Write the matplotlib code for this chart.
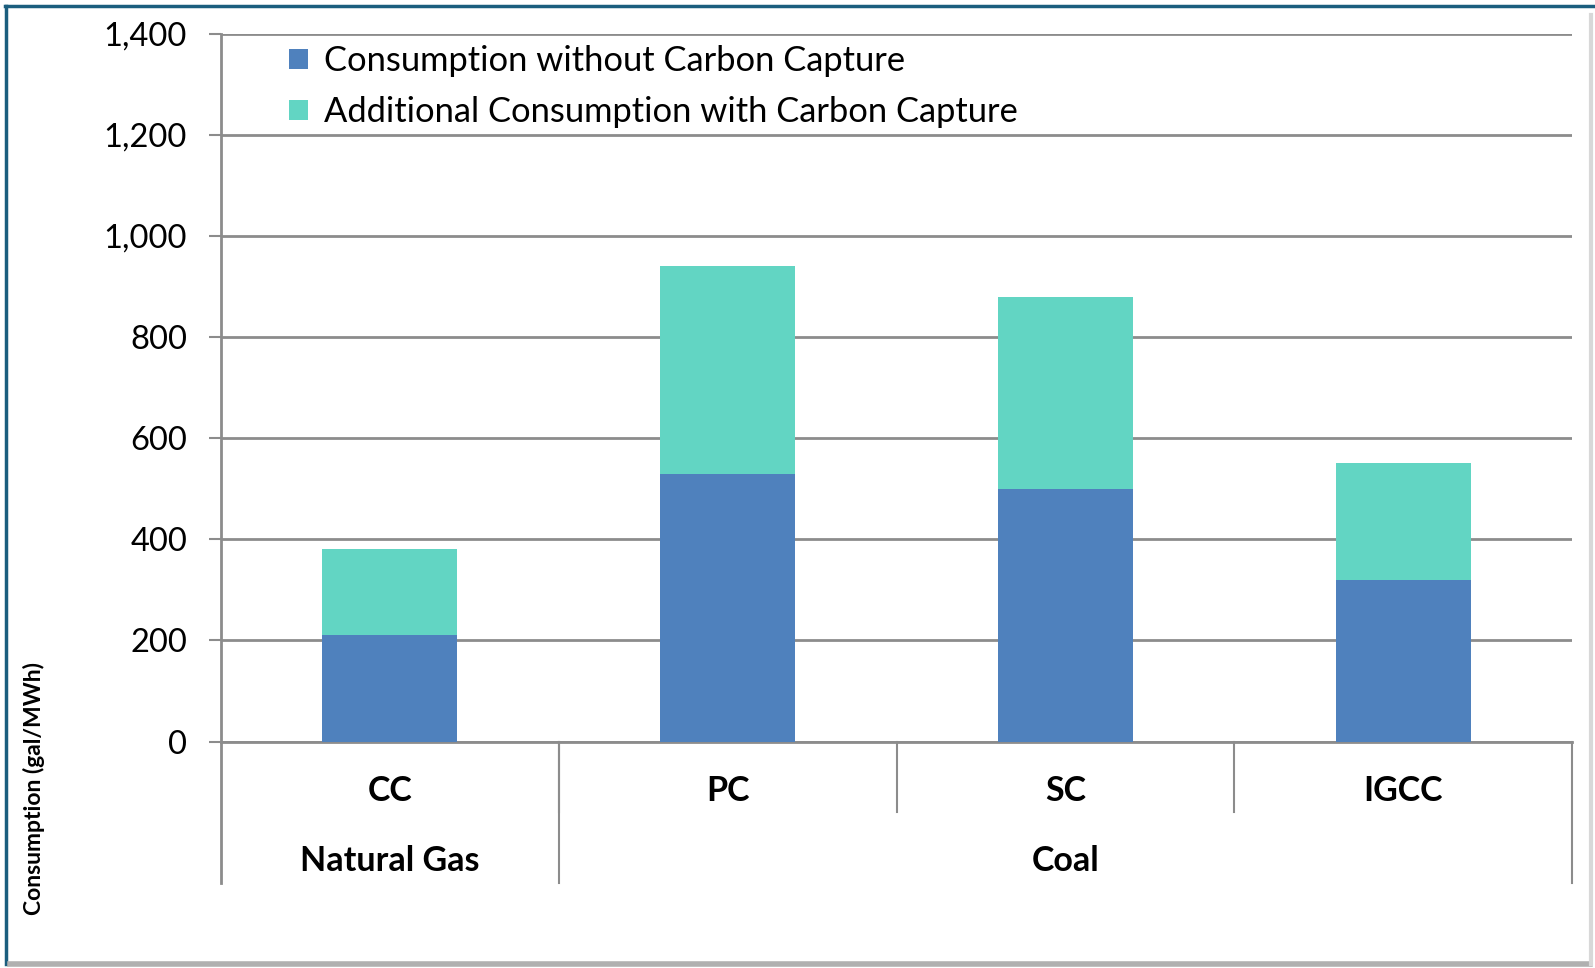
import matplotlib.pyplot as plt
from matplotlib.lines import Line2D
from matplotlib.ticker import FuncFormatter

plt.rcParams['font.family'] = ['Lato', 'DejaVu Sans']

# data
technologies = ['CC', 'PC', 'SC', 'IGCC']
fuel_groups = ['Natural Gas', 'Coal']
group_spans = [(0, 1), (1, 4)]  # category index ranges per fuel group
base_use = [210, 530, 500, 320]          # without carbon capture
extra_use = [170, 410, 380, 230]         # additional with carbon capture
y_ticks = [0, 200, 400, 600, 800, 1000, 1200, 1400]

blue = '#4F81BD'
teal = '#62D5C3'
grid_gray = '#8C8C8C'

fig = plt.figure(figsize=(15.95, 9.68), dpi=100)
ax = fig.add_axes([0.1386, 0.2339, 0.8470, 0.7314])

x = list(range(len(technologies)))
ax.bar(x, base_use, width=0.4, color=blue, label='Consumption without Carbon Capture', zorder=3)
ax.bar(x, extra_use, width=0.4, bottom=base_use, color=teal,
       label='Additional Consumption with Carbon Capture', zorder=3)

ax.set_xlim(-0.5, len(technologies) - 0.5)
ax.set_ylim(0, 1400)
ax.set_yticks(y_ticks)
ax.yaxis.set_major_formatter(FuncFormatter(lambda v, p: f'{int(v):,}'))
ax.tick_params(axis='y', labelsize=23.5, length=9, width=1.5, color=grid_gray, pad=15.5)
ax.set_xticks([])
ax.yaxis.grid(True, color=grid_gray, linewidth=2)
ax.set_axisbelow(True)

for side in ['top', 'right']:
    ax.spines[side].set_visible(False)
ax.spines['bottom'].set_color(grid_gray)
ax.spines['bottom'].set_linewidth(2)
ax.spines['left'].set_color(grid_gray)
ax.spines['left'].set_linewidth(2)
ax.spines['left'].set_bounds(0, 1400)

# two-level category axis
ax.axvline(-0.5, ymin=-0.2, ymax=0, color=grid_gray, linewidth=2, clip_on=False)
for i in range(1, len(technologies)):
    ax.axvline(i - 0.5, ymin=-0.0994, ymax=0, color=grid_gray, linewidth=1.5, clip_on=False)
for start, end in group_spans:
    ax.axvline(end - 0.5, ymin=-0.2, ymax=0, color=grid_gray, linewidth=1.5, clip_on=False)

trans = ax.get_xaxis_transform()
for i, name in enumerate(technologies):
    ax.text(i, -0.0698, name, transform=trans, ha='center', va='center',
            fontsize=24.5, fontweight='bold')
for (start, end), name in zip(group_spans, fuel_groups):
    ax.text((start + end - 1) / 2, -0.169, name, transform=trans, ha='center', va='center',
            fontsize=24.5, fontweight='bold')

fig.text(0.0215, 0.1854, 'Consumption (gal/MWh)', rotation=90, ha='center', va='center',
         fontsize=16.5, fontweight='bold')

ax.legend(loc='upper left', bbox_to_anchor=(0.0505, 0.9835), frameon=False, fontsize=24.8,
          handlelength=0.55, handleheight=0.55, handletextpad=0.45, labelspacing=0.55,
          borderpad=0, borderaxespad=0)

# outer chart frame
frame_blue = '#1B5E7E'
fig.add_artist(Line2D([0.003, 1.0], [0.9935, 0.9935], color=frame_blue, linewidth=2.5,
                      transform=fig.transFigure))
fig.add_artist(Line2D([0.0035, 0.0035], [0.004, 0.9935], color=frame_blue, linewidth=2.5,
                      transform=fig.transFigure))
fig.add_artist(Line2D([0.006, 0.997], [0.004, 0.004], color='#B0B0B0', linewidth=4,
                      transform=fig.transFigure))
fig.add_artist(Line2D([0.9975, 0.9975], [0.004, 0.985], color='#D8D8D8', linewidth=3,
                      transform=fig.transFigure))

fig.savefig('out.png', dpi=100)
